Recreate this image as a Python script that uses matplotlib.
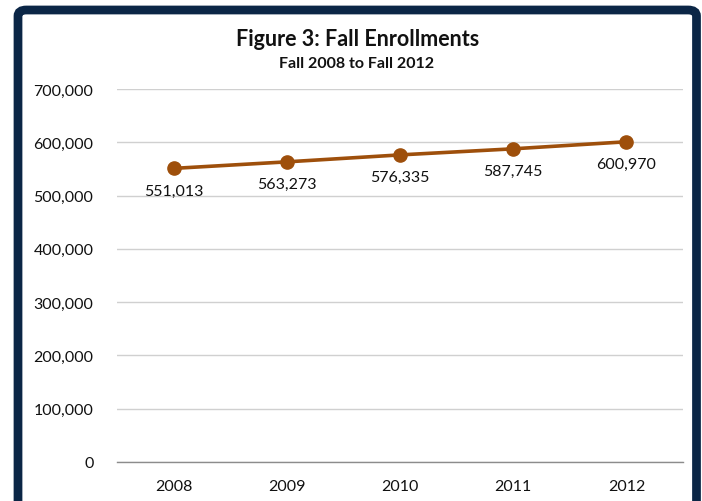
import matplotlib
matplotlib.use("Agg")
import matplotlib.pyplot as plt
from matplotlib.patches import FancyBboxPatch
from matplotlib.ticker import FuncFormatter

plt.rcParams['font.family'] = ['Lato', 'DejaVu Sans']

years = ['2008', '2009', '2010', '2011', '2012']
enrollments = [551013, 563273, 576335, 587745, 600970]
y_ticks = [0, 100000, 200000, 300000, 400000, 500000, 600000, 700000]

W, H = 702, 502
fig = plt.figure(figsize=(W / 100, H / 100), dpi=100)
fig.patch.set_facecolor('white')

# navy frame around the chart (bottom edge runs off the canvas)
left, right, top = 18, 696.5, 11
frame = FancyBboxPatch((left / W, -0.2), (right - left) / W, (H - top) / H + 0.2,
                       boxstyle="round,pad=0,rounding_size=0.012",
                       transform=fig.transFigure, facecolor='none',
                       edgecolor='#0b2646', linewidth=6.3, zorder=0)
fig.patches.append(frame)

ax = fig.add_axes([117 / W, 1 - 463 / H, (683 - 117) / W, (463 - 90) / H])
x = range(len(years))
color = '#9e4f0b'
ax.plot(x, enrollments, color=color, linewidth=2.6, marker='o', markersize=9.5,
        markerfacecolor=color, markeredgecolor=color, zorder=3, clip_on=False)

for xi, v in zip(x, enrollments):
    ax.annotate(f'{v:,}', (xi, v), xytext=(0, -16), textcoords='offset points',
                ha='center', va='center', fontsize=11.5, color='#111111')

ax.set_xlim(-0.5, len(years) - 0.5)
ax.set_ylim(0, 700000)
ax.set_yticks(y_ticks)
ax.yaxis.set_major_formatter(FuncFormatter(lambda v, p: f'{int(v):,}'))
ax.set_xticks(list(x))
ax.set_xticklabels(years)
ax.grid(axis='y', color='#d0d0d0', linewidth=1)
ax.set_axisbelow(True)
for s in ['top', 'right', 'left']:
    ax.spines[s].set_visible(False)
ax.spines['bottom'].set_color('#8c8c8c')
ax.spines['bottom'].set_linewidth(1)
ax.tick_params(axis='both', length=0, labelsize=11.5, colors='#111111')
ax.tick_params(axis='y', pad=17)
ax.tick_params(axis='x', pad=12)

fig.text(358 / W, 1 - 46 / H, 'Figure 3: Fall Enrollments', ha='center', va='baseline',
         fontsize=15.5, fontweight='bold', color='#111111')
fig.text(357 / W, 1 - 68 / H, 'Fall 2008 to Fall 2012', ha='center', va='baseline',
         fontsize=11.5, fontweight='bold', color='#111111')

fig.savefig('out.png', dpi=100, facecolor='white')
